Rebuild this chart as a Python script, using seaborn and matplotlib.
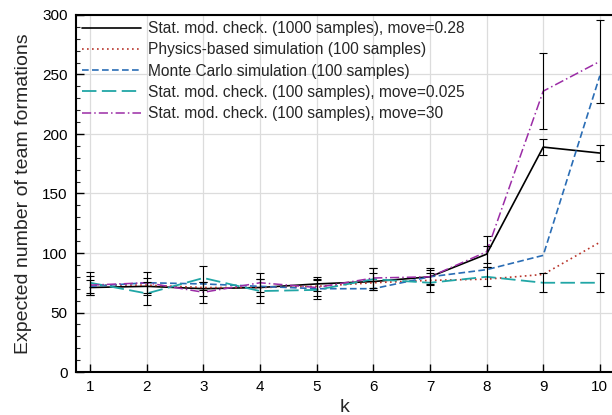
import numpy as np
import pandas as pd
import matplotlib
matplotlib.use("Agg")
import matplotlib.pyplot as plt
import seaborn as sns
from matplotlib.ticker import MultipleLocator

k = [1, 2, 3, 4, 5, 6, 7, 8, 9, 10]
labels = [
    "Stat. mod. check. (1000 samples), move=0.28",
    "Physics-based simulation (100 samples)",
    "Monte Carlo simulation (100 samples)",
    "Stat. mod. check. (100 samples), move=0.025",
    "Stat. mod. check. (100 samples), move=30",
]
smc_1000 = [71, 72, 70, 71, 74, 76, 80, 99, 189, 184]
physics = [73, 73, 71, 71, 72, 75, 77, 78, 82, 109]
monte_carlo = [72, 75, 74, 72, 70, 70, 80, 86, 98, 249]
smc_0025 = [75, 66, 79, 68, 69, 78, 75, 80, 75, 75]
smc_30 = [73, 75, 67, 75, 71, 79, 80, 101, 236, 261]

err_smc_1000 = [6, 7, 6, 7, 6, 7, 6, 7, 7, 7]
err_smc_0025 = [9, 10, 10, 10, 8, 9, 8, 8, 8, 8]
err_smc_30 = [8, 9, 9, 8, 7, 8, 7, 13, 32, 35]

series = [smc_1000, physics, monte_carlo, smc_0025, smc_30]
colors = ["#000000", "#b8342a", "#2a6db5", "#21a6a6", "#9b2ca6"]
styles = ["-", (0, (1, 2)), (0, (4, 2)), (0, (8, 3)), (0, (6, 2, 1, 2))]
widths = [1.2, 1.2, 1.2, 1.3, 1.1]

sns.set_theme(style="white")
plt.rcParams["font.family"] = ["Liberation Sans", "DejaVu Sans"]

fig = plt.figure(figsize=(6.12, 4.15), dpi=100)
ax = fig.add_axes([76 / 612, 1 - 372 / 415, 538 / 612, 357 / 415])

frames = []
for lab, vals in zip(labels, series):
    frames.append(pd.DataFrame({"k": k, "value": vals, "series": lab}))
df = pd.concat(frames, ignore_index=True)

for lab, col, ls, lw in zip(labels, colors, styles, widths):
    sub = df[df["series"] == lab]
    sns.lineplot(data=sub, x="k", y="value", ax=ax, color=col, linestyle=ls,
                 linewidth=lw, label=lab, errorbar=None)

for vals, err in [(smc_0025, err_smc_0025), (smc_30, err_smc_30), (smc_1000, err_smc_1000)]:
    ax.errorbar(k, vals, yerr=err, fmt="none", ecolor="black", elinewidth=0.8,
                capsize=3, capthick=0.8, zorder=5)

ax.set_xlim(0.75, 10.25)
ax.set_ylim(0, 300)
ax.set_xticks(k)
ax.set_yticks(range(0, 301, 50))
ax.yaxis.set_minor_locator(MultipleLocator(10))
ax.grid(True, which="major", color="#dcdcdc", linewidth=0.9)
ax.set_axisbelow(True)
ax.tick_params(axis="both", which="major", direction="in", length=6, width=1,
               labelsize=11, colors="black", left=True, bottom=True, top=False,
               right=False, pad=6)
ax.tick_params(axis="y", which="minor", direction="in", length=3, width=0.8, left=True)
for sp in ["left", "bottom", "top"]:
    ax.spines[sp].set_color("black")
    ax.spines[sp].set_linewidth(1.5)
ax.spines["right"].set_visible(False)
ax.set_xlabel("k", fontsize=14, labelpad=3)
ax.set_ylabel("Expected number of team formations", fontsize=14, labelpad=7)

ax.legend(loc="upper left", frameon=False, fontsize=11.2, handlelength=3.75,
          borderaxespad=0.0, labelspacing=0.4, handletextpad=0.45,
          bbox_to_anchor=(0.0, 1.0))

fig.savefig("out.png", dpi=100)
